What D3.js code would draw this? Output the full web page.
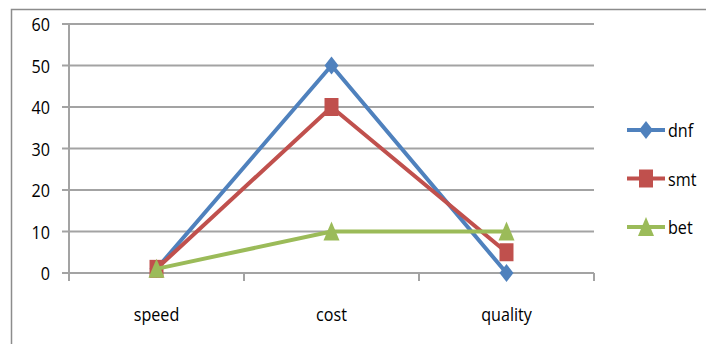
<!DOCTYPE html>
<html>
<head>
<meta charset="utf-8">
<script src="https://cdn.jsdelivr.net/npm/d3@7"></script>
<style>
  html, body { margin: 0; padding: 0; background: #fff; }
  svg text { font-family: "Open Sans", "Noto Sans", sans-serif; fill: #000; }
</style>
</head>
<body>
<svg id="chart" width="706" height="344"></svg>
<script>
// Categories and series values
const categories = ["speed", "cost", "quality"];
const dnf = [1, 50, 0];
const smt = [1, 40, 5];
const bet = [1, 10, 10];
const seriesNames = ["dnf", "smt", "bet"];
const yTicks = [0, 10, 20, 30, 40, 50, 60];

const series = [
  { name: seriesNames[0], values: dnf, color: "#4F81BD", marker: "diamond" },
  { name: seriesNames[1], values: smt, color: "#C0504D", marker: "square" },
  { name: seriesNames[2], values: bet, color: "#9BBB59", marker: "triangle" }
];

const svg = d3.select("#chart");

// Chart frame
svg.append("path")
  .attr("d", "M11.5,344 V9.5 H706")
  .attr("fill", "none")
  .attr("stroke", "#8c8c8c")
  .attr("stroke-width", 1.5);

const plot = { left: 69, right: 594, top: 24, bottom: 273 };

const x = d3.scaleBand().domain(categories).range([plot.left, plot.right]);
const y = d3.scaleLinear().domain([0, 60]).range([plot.bottom, plot.top]);

const gridColor = "#a3a3a3";

// Text with a slightly tall, narrow look
function tallText(sel, tx, ty, anchor) {
  sel.attr("transform", `translate(${tx},${ty}) scale(0.95,1.12)`)
    .attr("x", 0).attr("y", 0)
    .attr("text-anchor", anchor)
    .attr("font-size", 17);
}

// Horizontal gridlines
svg.append("g").selectAll("line").data(yTicks).join("line")
  .attr("x1", plot.left - 7).attr("x2", plot.right)
  .attr("y1", d => y(d)).attr("y2", d => y(d))
  .attr("stroke", gridColor).attr("stroke-width", 2);

// Y axis labels
svg.append("g").selectAll("text").data(yTicks).join("text")
  .text(d => d)
  .each(function (d) { tallText(d3.select(this), 50, y(d) + 7, "end"); });

svg.append("line")
  .attr("x1", plot.left).attr("x2", plot.left)
  .attr("y1", plot.top).attr("y2", plot.bottom + 8)
  .attr("stroke", gridColor).attr("stroke-width", 2);

// X axis labels and tick marks between categories
svg.append("g").selectAll("text").data(categories).join("text")
  .text(d => d)
  .each(function (d) { tallText(d3.select(this), x(d) + x.bandwidth() / 2, 321, "middle"); });

const bounds = categories.map(c => x(c)).concat([plot.right]);
svg.append("g").selectAll("line").data(bounds).join("line")
  .attr("x1", d => d).attr("x2", d => d)
  .attr("y1", plot.bottom).attr("y2", plot.bottom + 8)
  .attr("stroke", gridColor).attr("stroke-width", 2);

// Marker shapes
function markerPath(type) {
  const w = 7, h = 9;
  if (type === "diamond") return `M0,${-h} L${w},0 L0,${h} L${-w},0 Z`;
  if (type === "square") return `M${-w},${-h} H${w} V${h} H${-w} Z`;
  return `M0,${-h - 1} L${w + 1},${h} L${-w - 1},${h} Z`;
}

const cx = c => x(c) + x.bandwidth() / 2;
const line = d3.line().x((d, i) => cx(categories[i])).y(d => y(d));

series.forEach(s => {
  const g = svg.append("g");
  g.append("path")
    .attr("d", line(s.values))
    .attr("fill", "none")
    .attr("stroke", s.color)
    .attr("stroke-width", 4)
    .attr("stroke-linejoin", "round");
  g.selectAll("path.m").data(s.values).join("path")
    .attr("class", "m")
    .attr("d", markerPath(s.marker))
    .attr("transform", (d, i) => `translate(${cx(categories[i])},${y(d)})`)
    .attr("fill", s.color);
});

// Legend
const legendY = d3.scalePoint().domain(seriesNames).range([130, 227]);
const legend = svg.append("g");
series.forEach(s => {
  const ly = legendY(s.name);
  legend.append("line")
    .attr("x1", 627).attr("x2", 665)
    .attr("y1", ly).attr("y2", ly)
    .attr("stroke", s.color).attr("stroke-width", 4);
  legend.append("path")
    .attr("d", markerPath(s.marker))
    .attr("transform", `translate(646,${ly})`)
    .attr("fill", s.color);
  legend.append("text")
    .text(s.name)
    .call(t => tallText(t, 668, ly + 7, "start"));
});
</script>
</body>
</html>
